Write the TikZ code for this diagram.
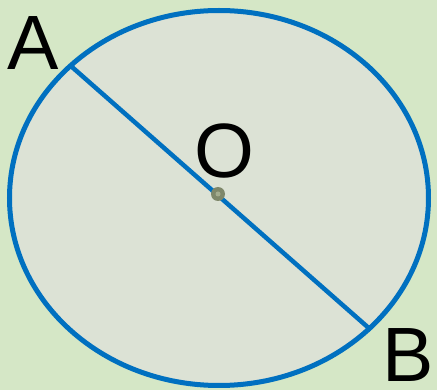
\documentclass[tikz,border=0pt]{standalone}
\usepackage{fontspec}
\setmainfont{Liberation Sans}
\definecolor{bgc}{HTML}{D5E7C6}
\definecolor{fillc}{HTML}{DCE2D5}
\definecolor{bluec}{HTML}{0070C0}
\definecolor{dotc}{HTML}{7E876A}
\definecolor{dotin}{HTML}{A3AB8E}
\begin{document}
\begin{tikzpicture}[x=1pt,y=-1pt,
  lbl/.style={inner sep=0pt,anchor=base,font=\fontsize{77}{77}\selectfont}]
\fill[bgc] (0,0) rectangle (437,390);
\useasboundingbox (0,0) rectangle (437,390);
\draw[bluec,line width=5pt,fill=fillc] (219,198) ellipse [x radius=209.5, y radius=187.5];
\coordinate (A) at (72,67);
\coordinate (B) at (371,330);
\coordinate (O) at (218,194);
\draw[bluec,line width=4.5pt] (A) -- (B);
\fill[dotc] (O) circle (7);
\fill[dotin] (O) circle (2.5);
\node[lbl] (la) at (33,70) {A};
\node[lbl] (lo) at (224.5,178) {O};
\node[lbl] (lb) at (408.5,382) {B};
\end{tikzpicture}
\end{document}
